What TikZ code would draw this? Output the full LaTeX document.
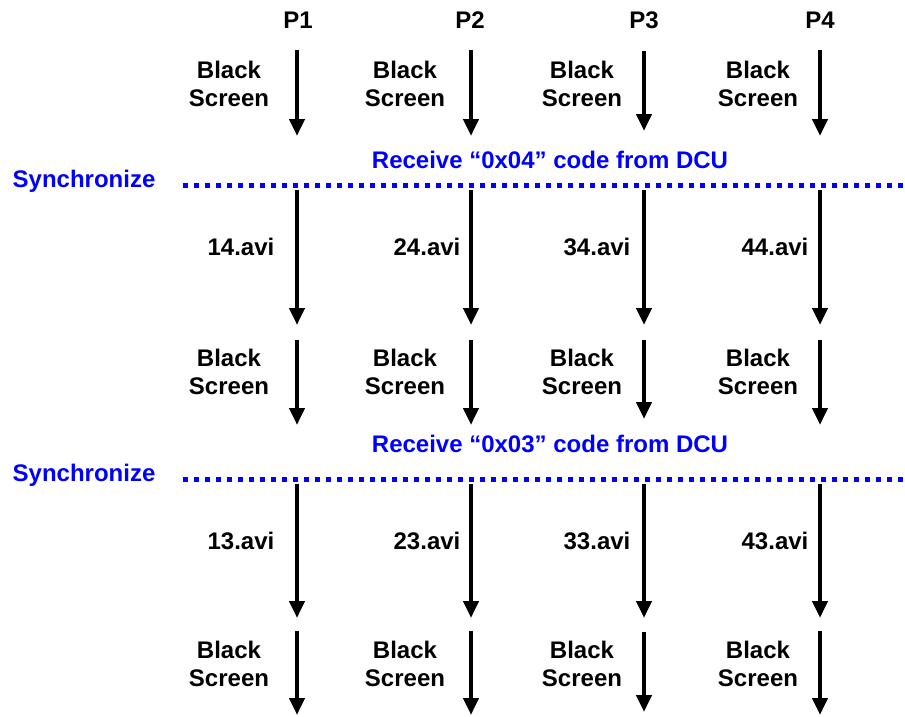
\documentclass[tikz,border=0pt]{standalone}
\usepackage{fontspec}
\setmainfont{Liberation Sans}
\usetikzlibrary{arrows.meta}
\definecolor{syncblue}{RGB}{0,0,255}

\begin{document}
\begin{tikzpicture}[x=1pt, y=-1pt,
    every node/.style={font=\fontsize{24}{28}\selectfont\bfseries, align=center, inner sep=0pt},
    flow/.style={line width=4.5pt, -{Triangle[width=15pt, length=17pt]}},
    syncline/.style={syncblue, line width=5pt, dash pattern=on 5pt off 6pt},
    bluetext/.style={text=syncblue}]
    \useasboundingbox (0,0) rectangle (905,717);

    % process headings
    \node (p1) at (298, 20) {P1};
    \node (p2) at (470, 20) {P2};
    \node (p3) at (644, 20) {P3};
    \node (p4) at (820, 20) {P4};

    % arrow ends, one column per process
    \coordinate (p1r1a) at (297, 50);  \coordinate (p1r1b) at (297, 136);
    \coordinate (p2r1a) at (471, 50);  \coordinate (p2r1b) at (471, 136);
    \coordinate (p3r1a) at (644, 51);  \coordinate (p3r1b) at (644, 131);
    \coordinate (p4r1a) at (820, 50);  \coordinate (p4r1b) at (820, 136);

    \coordinate (p1r2a) at (297, 190); \coordinate (p1r2b) at (297, 325);
    \coordinate (p2r2a) at (471, 190); \coordinate (p2r2b) at (471, 325);
    \coordinate (p3r2a) at (644, 190); \coordinate (p3r2b) at (644, 325);
    \coordinate (p4r2a) at (820, 190); \coordinate (p4r2b) at (820, 325);

    \coordinate (p1r3a) at (297, 340); \coordinate (p1r3b) at (297, 425);
    \coordinate (p2r3a) at (471, 340); \coordinate (p2r3b) at (471, 425);
    \coordinate (p3r3a) at (644, 340); \coordinate (p3r3b) at (644, 419);
    \coordinate (p4r3a) at (820, 340); \coordinate (p4r3b) at (820, 425);

    \coordinate (p1r4a) at (297, 484); \coordinate (p1r4b) at (297, 618);
    \coordinate (p2r4a) at (471, 484); \coordinate (p2r4b) at (471, 618);
    \coordinate (p3r4a) at (644, 484); \coordinate (p3r4b) at (644, 618);
    \coordinate (p4r4a) at (820, 484); \coordinate (p4r4b) at (820, 618);

    \coordinate (p1r5a) at (297, 631); \coordinate (p1r5b) at (297, 715);
    \coordinate (p2r5a) at (471, 631); \coordinate (p2r5b) at (471, 715);
    \coordinate (p3r5a) at (644, 632); \coordinate (p3r5b) at (644, 712);
    \coordinate (p4r5a) at (820, 631); \coordinate (p4r5b) at (820, 715);

    % step labels
    \node (b11) at (229, 84) {Black\\Screen};
    \node (b21) at (405, 84) {Black\\Screen};
    \node (b31) at (582, 84) {Black\\Screen};
    \node (b41) at (758, 84) {Black\\Screen};

    \node (v14) at (241, 247) {14.avi};
    \node (v24) at (427, 247) {24.avi};
    \node (v34) at (597, 247) {34.avi};
    \node (v44) at (775, 247) {44.avi};

    \node (b12) at (229, 372) {Black\\Screen};
    \node (b22) at (405, 372) {Black\\Screen};
    \node (b32) at (582, 372) {Black\\Screen};
    \node (b42) at (758, 372) {Black\\Screen};

    \node (v13) at (241, 541) {13.avi};
    \node (v23) at (427, 541) {23.avi};
    \node (v33) at (597, 541) {33.avi};
    \node (v43) at (775, 541) {43.avi};

    \node (b13) at (229, 664) {Black\\Screen};
    \node (b23) at (405, 664) {Black\\Screen};
    \node (b33) at (582, 664) {Black\\Screen};
    \node (b43) at (758, 664) {Black\\Screen};

    % synchronisation points
    \node[bluetext] (sync1) at (84, 181) {Synchronize};
    \node[bluetext] (recv4) at (550, 160) {Receive “0x04” code from DCU};
    \coordinate (s1a) at (183, 185); \coordinate (s1b) at (905, 185);

    \node[bluetext] (sync2) at (84, 475) {Synchronize};
    \node[bluetext] (recv3) at (550, 444) {Receive “0x03” code from DCU};
    \coordinate (s2a) at (183, 479); \coordinate (s2b) at (905, 479);

    \draw[syncline] (s1a) -- (s1b);
    \draw[syncline] (s2a) -- (s2b);

    \draw[flow] (p1r1a) -- (p1r1b);  \draw[flow] (p2r1a) -- (p2r1b);
    \draw[flow] (p3r1a) -- (p3r1b);  \draw[flow] (p4r1a) -- (p4r1b);
    \draw[flow] (p1r2a) -- (p1r2b);  \draw[flow] (p2r2a) -- (p2r2b);
    \draw[flow] (p3r2a) -- (p3r2b);  \draw[flow] (p4r2a) -- (p4r2b);
    \draw[flow] (p1r3a) -- (p1r3b);  \draw[flow] (p2r3a) -- (p2r3b);
    \draw[flow] (p3r3a) -- (p3r3b);  \draw[flow] (p4r3a) -- (p4r3b);
    \draw[flow] (p1r4a) -- (p1r4b);  \draw[flow] (p2r4a) -- (p2r4b);
    \draw[flow] (p3r4a) -- (p3r4b);  \draw[flow] (p4r4a) -- (p4r4b);
    \draw[flow] (p1r5a) -- (p1r5b);  \draw[flow] (p2r5a) -- (p2r5b);
    \draw[flow] (p3r5a) -- (p3r5b);  \draw[flow] (p4r5a) -- (p4r5b);
\end{tikzpicture}
\end{document}
